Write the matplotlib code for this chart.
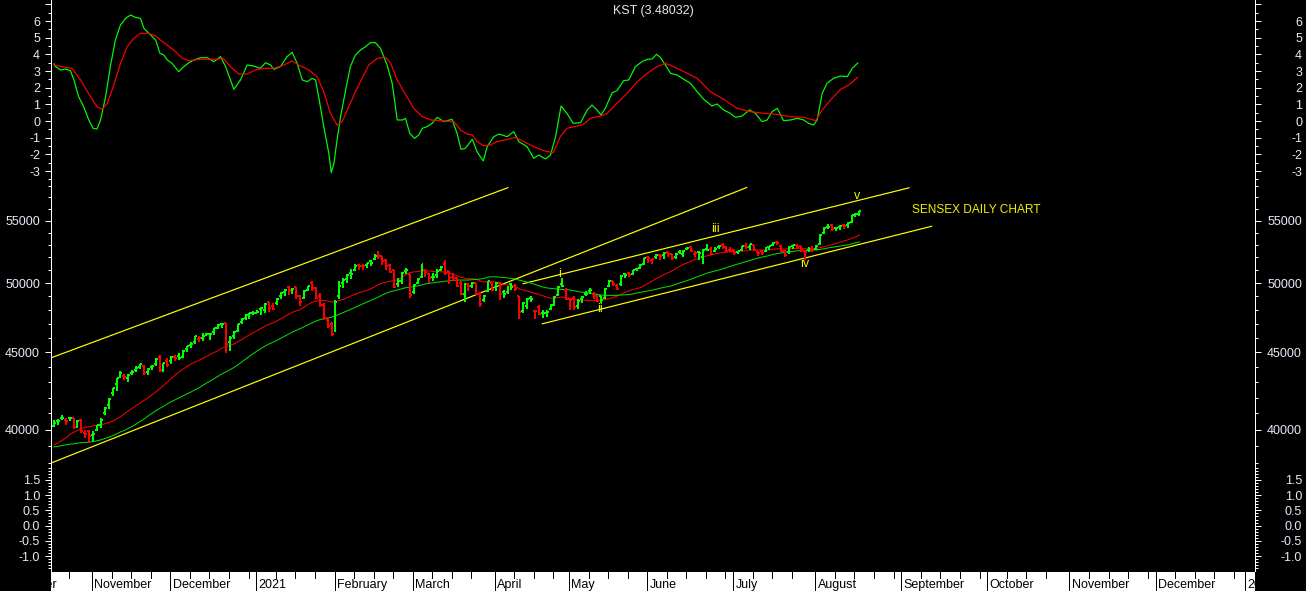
import numpy as np
import pandas as pd
import matplotlib
matplotlib.use('Agg')
import matplotlib.pyplot as plt
from matplotlib.collections import LineCollection
from matplotlib.ticker import FixedLocator, FixedFormatter, NullFormatter

plt.rcParams['font.family'] = ['Liberation Sans', 'DejaVu Sans']

# ---------------- data ----------------
# daily bars (19-Oct-2020 .. 17-Aug-2021), index = trading-day number
opens = [40200, 40500, 40700, 40600, 40700, 40700, 40200, 40600, 39800, 39900,
         39700, 40000, 40300, 41000, 41500, 42300, 42900, 43450, 43400, 43300,
         43600, 43800, 44000, 44100, 43700, 44000, 44200, 44700, 44000, 44400,
         44400, 44700, 44750, 44700, 45200, 45500, 45700, 45900, 46000, 46200,
         46300, 46400, 46700, 47000, 47050, 45700, 46100, 46500, 47150, 47450,
         47700, 47800, 47800, 48100, 48000, 48600, 48300, 48500, 49000, 49300,
         49700, 49500, 49700, 49000, 48900, 49500, 50000, 49600, 49000, 48400,
         47300, 47000, 46600, 49000, 50000, 50300, 50800, 51000, 51400, 51300,
         51400, 51700, 51900, 52300, 52100, 51800, 51400, 51000, 49900, 50200,
         50900, 50700, 49300, 50000, 50500, 51000, 50700, 50500, 50600, 51000,
         51500, 50900, 50500, 50400, 50000, 49200, 49900, 49800, 50000, 49200,
         48700, 49400, 50000, 49700, 50000, 49300, 49300, 49900, 49800, 49000,
         47900, 48300, 48900, 47900, 48200, 47800, 47800, 48100, 48400, 49100,
         49900, 49500, 48800, 48900, 48300, 48800, 49200, 49400, 49200, 49000,
         49000, 48900, 49800, 50200, 49800, 49900, 50700, 50800, 50700, 51100,
         51200, 51500, 52000, 51800, 52000, 52200, 52200, 52400, 52300, 52000,
         52400, 52300, 52700, 52800, 52300, 52400, 52000, 52700, 52700, 52500,
         52800, 53000, 52800, 52600, 52600, 52400, 52600, 52900, 52800, 53000,
         52400, 52500, 52500, 52800, 53000, 53200, 52900, 52500, 52400, 52900,
         53000, 52900, 52500, 52600, 52700, 52700, 53100, 54000, 54500, 54600,
         54400, 54500, 54600, 54600, 54900, 55500, 55600]
highs = [40600, 40650, 40900, 40700, 40800, 40730, 40600, 40660, 40000, 39950,
         39900, 40300, 40700, 41400, 41950, 42650, 43300, 43710, 43550, 43550,
         43830, 44100, 44230, 44150, 43950, 44150, 44600, 44825, 44300, 44600,
         44730, 44800, 44950, 45150, 45460, 45740, 46160, 46100, 46310, 46370,
         46350, 46700, 46990, 47030, 47055, 46100, 46500, 47000, 47400, 47700,
         47810, 47900, 47980, 48220, 48490, 48620, 48500, 48850, 49300, 49570,
         49800, 49650, 49700, 49100, 49450, 49800, 50190, 49700, 49250, 48500,
         47500, 47100, 48700, 50150, 50400, 50700, 51070, 51500, 51520, 51500,
         51600, 51800, 52240, 52520, 52100, 51900, 51450, 51050, 50400, 50850,
         51200, 50700, 49900, 50400, 51500, 51100, 50800, 50800, 51100, 51350,
         51820, 50950, 50800, 50500, 50200, 50000, 50000, 50100, 50000, 49300,
         49100, 50200, 50100, 50100, 50100, 49500, 49800, 50000, 49900, 49000,
         48600, 48850, 49000, 48000, 48400, 48000, 48000, 48450, 49000, 49800,
         50375, 49600, 48850, 49000, 48800, 49000, 49400, 49600, 49300, 49100,
         49000, 49600, 50250, 50200, 49900, 50600, 50800, 50850, 51050, 51200,
         51450, 51950, 52100, 51900, 52300, 52300, 52400, 52450, 52300, 52350,
         52600, 52600, 52870, 52900, 52500, 52500, 52650, 53050, 52800, 52800,
         53000, 53130, 52900, 52800, 52700, 52550, 52900, 53130, 53100, 53000,
         52500, 52600, 52800, 52950, 53200, 53290, 53000, 52600, 52900, 53000,
         53100, 52950, 52600, 52800, 52900, 53000, 53900, 54470, 54700, 54700,
         54500, 54600, 54700, 54900, 55500, 55670, 55850]
lows = [40150, 40300, 40600, 40300, 40500, 40050, 40100, 39800, 39500, 39250,
        39300, 39900, 40100, 40900, 41300, 42100, 42400, 43300, 43150, 43000,
        43500, 43700, 43900, 43500, 43500, 43800, 44100, 43650, 43700, 44000,
        44200, 44400, 44500, 44600, 45050, 45300, 45600, 45700, 45750, 46100,
        45850, 46200, 46650, 46700, 44923, 45110, 45900, 46400, 47000, 47300,
        47360, 47600, 47770, 47600, 47800, 47850, 48000, 48350, 48800, 49000,
        49100, 49150, 48800, 48300, 48800, 49400, 49400, 48800, 48200, 47300,
        46700, 46160, 46400, 48800, 49600, 50000, 50300, 50900, 51000, 51000,
        51200, 51300, 51800, 51900, 51400, 51000, 50800, 49650, 49700, 49900,
        50700, 48900, 49200, 49900, 50400, 50500, 50000, 50200, 50400, 50900,
        50600, 49900, 50200, 49700, 49100, 48600, 49400, 49600, 49100, 48240,
        48600, 49300, 49400, 49400, 48700, 48900, 49200, 49500, 49400, 47360,
        47800, 48100, 48600, 47360, 47600, 47400, 47500, 48000, 48300, 49000,
        49700, 48700, 48000, 48000, 48100, 48500, 49000, 49200, 48800, 48600,
        48500, 48800, 49700, 49800, 49500, 49800, 50400, 50500, 50600, 50900,
        51100, 51400, 51600, 51500, 51900, 51800, 51900, 52000, 51800, 51900,
        52300, 52000, 52600, 52400, 52000, 51800, 51500, 52500, 52200, 52400,
        52700, 52700, 52400, 52400, 52200, 52300, 52500, 52700, 52600, 52500,
        52100, 52200, 52400, 52600, 52900, 53000, 52400, 52000, 52300, 52700,
        52700, 52400, 51800, 52400, 52400, 52600, 53000, 53900, 54300, 54100,
        54100, 54200, 54300, 54400, 54800, 55300, 55400]
closes = [40431, 40544, 40707, 40558, 40686, 40145, 40522, 39922, 39750, 39614,
          39757, 40261, 40616, 41340, 41893, 42597, 43278, 43594, 43357, 43443,
          43638, 43952, 44180, 43600, 43882, 44077, 44523, 43828, 44260, 44150,
          44655, 44618, 44633, 45080, 45426, 45609, 46104, 45960, 46099, 46254,
          46263, 46666, 46890, 46961, 45554, 46007, 46444, 46974, 47354, 47613,
          47746, 47751, 47869, 48177, 48438, 48174, 48093, 48782, 49269, 49517,
          49492, 49584, 49035, 48564, 49398, 49792, 49625, 48879, 48348, 47410,
          46874, 46286, 48601, 49798, 50256, 50614, 50732, 51349, 51329, 51309,
          51532, 51544, 52154, 52104, 51704, 51324, 50890, 49744, 50195, 50781,
          51039, 49100, 49850, 50297, 51445, 50846, 50405, 50441, 50924, 51280,
          50792, 50395, 50364, 49802, 49216, 49858, 49771, 50051, 49180, 48440,
          49008, 50137, 49509, 50030, 49159, 49202, 49662, 49746, 49592, 47884,
          48544, 48804, 48832, 47949, 47706, 47813, 47879, 48387, 48944, 49734,
          49766, 48782, 48718, 48254, 48677, 48950, 49206, 49503, 49162, 48690,
          48733, 49581, 50193, 49903, 49565, 50540, 50651, 50638, 51018, 51115,
          51423, 51937, 51935, 51849, 52232, 52100, 52328, 52276, 51942, 52300,
          52475, 52551, 52773, 52501, 52323, 52344, 52574, 52588, 52306, 52699,
          52925, 52735, 52549, 52483, 52319, 52485, 52880, 52861, 53055, 52569,
          52386, 52373, 52770, 52904, 53159, 53140, 52553, 52199, 52838, 52976,
          52852, 52579, 52444, 52654, 52587, 52951, 53823, 54370, 54493, 54278,
          54403, 54555, 54526, 54844, 55437, 55583, 55792]
# closes before the first bar (for the moving averages)
prior_closes = [38434, 38799, 38843, 39073, 39113, 39467, 38628, 38900, 39086, 38990,
                38357, 38417, 38365, 38193, 38840, 38855, 38757, 39044, 39303, 38980,
                38845, 38034, 37734, 37668, 36553, 37389, 37982, 37973, 38068, 38697,
                38974, 39574, 39879, 40183, 40509, 40594, 40626, 40795, 39728, 39983]
ma_fast, ma_slow = 20, 40

# KST line and its signal line (bar index, value)
kst_idx = [0, 0.4, 1.7, 2.9, 4.2, 5.1, 6.3, 7.6, 8.9, 10, 11, 11.9, 13.2, 14.4, 15.7,
           17, 18.3, 19.6, 20.8, 22.1, 23, 24.7, 26, 27.1, 28.1, 29, 30.2, 31.9, 33.2,
           34.5, 35.8, 37.5, 39.2, 40.9, 42.6, 43.9, 46, 47.7, 49.4, 51.1, 52.8, 54.1,
           55.4, 56.2, 57.9, 59.6, 60.9, 62.2, 63.5, 64.8, 66, 66.9, 67.7, 69, 70.3,
           70.9, 71.6, 72.4, 73.3, 74.6, 75.8, 77.1, 78.4, 79.7, 80.9, 82.2, 83.5, 85.2,
           86.5, 87.8, 89.1, 89.9, 91, 92.2, 93.3, 94.2, 95.4, 96.7, 98, 99.7, 101.8,
           103.1, 104.1, 105.2, 107, 108.2, 109.8, 110.8, 112.5, 113.8, 115.9, 117.6,
           118.9, 121, 122.7, 124, 125.7, 127, 128.3, 129.7, 131.2, 132.8, 134.7, 136.4,
           137.6, 138.9, 139.9, 141, 142.8, 144, 145.7, 147, 148.7, 150.4, 151.7, 153,
           154.1, 155.1, 156.4, 157.7, 159.4, 161.1, 162.8, 164.5, 166.2, 168.3, 169.6,
           171.3, 173, 174.3, 176, 177.9, 179.4, 181.1, 182.4, 183.7, 185, 186.6, 188.4,
           190.1, 191.8, 193, 194.3, 195.2, 196.5, 197.7, 199.4, 201.2, 202.9, 204.2,
           205.6]
kst_val = [3.42, 3.26, 3.06, 3.12, 3.02, 2.46, 1.46, 0.86, 0.06, -0.44, -0.48, 0.06, 1.46,
           3.26, 4.86, 5.76, 6.16, 6.36, 6.22, 6.16, 5.56, 5.16, 4.86, 4.06, 3.96, 3.66,
           3.46, 2.96, 3.26, 3.5, 3.66, 3.8, 3.8, 3.56, 3.86, 3.26, 1.9, 2.46, 3.36, 3.3,
           3.16, 3.5, 3.36, 3.1, 3.26, 3.86, 4.12, 3.46, 2.46, 2.36, 2.56, 2.46, 1.46,
           -0.34, -1.94, -3.1, -2.54, -1.14, 0.26, 1.86, 3.26, 3.96, 4.26, 4.46, 4.7, 4.7,
           4.36, 3.36, 2.26, 0.06, 0.06, 0.16, -0.74, -1.04, -0.84, -0.44, -0.34, -0.14,
           0.22, -0.04, 0.1, -0.74, -1.7, -1.64, -1.1, -1.84, -2.4, -1.54, -0.94, -0.78,
           -0.94, -0.64, -1.24, -1.54, -2.24, -2.04, -2.28, -2.04, -0.94, 0.9, 0.46, -0.14,
           -0.1, 0.66, 0.96, 0.66, 0.36, 0.76, 1.7, 1.82, 2.42, 2.46, 3.26, 3.56, 3.7,
           3.72, 4.0, 3.82, 3.36, 2.86, 2.76, 2.5, 2.26, 1.76, 1.3, 0.9, 1.02, 0.66, 0.46,
           0.22, 0.3, 0.66, 0.46, -0.04, 0.06, 0.56, 0.76, 0.02, 0.06, 0.16, 0.06, -0.14,
           -0.24, 0.06, 1.66, 2.26, 2.56, 2.7, 2.66, 3.16, 3.48]
sig_idx = [0, 3.4, 4.6, 6.8, 9.3, 11, 12.3, 13.6, 15.3, 17, 18.7, 20.4, 22.1, 24.2, 26,
           27.2, 28.9, 31.1, 32.8, 34.5, 37.5, 40.9, 43.3, 45.1, 47.3, 49.4, 51.5, 53.7,
           56.2, 58.4, 60.9, 62.6, 65.2, 67.3, 69, 70.7, 72.4, 73.7, 75.4, 77.1, 78.8,
           80.5, 82.7, 84.8, 86.1, 87.8, 89.5, 92, 94.2, 96.4, 98.9, 102.3, 104, 105.7,
           107, 108.2, 109.9, 111.6, 113.3, 115.9, 118, 120.2, 122.7, 125.3, 127.7,
           129.5, 131.2, 133.8, 135.5, 137.2, 139.8, 141.5, 144, 146.6, 149.2, 151.7,
           154.3, 156.4, 158.5, 162, 164.5, 167.9, 171.3, 174.7, 178.1, 181.5, 184.9,
           188.3, 191.8, 194.8, 196.5, 198.6, 201.2, 203.3, 205.6]
sig_val = [3.36, 3.2, 3.16, 2.46, 1.46, 0.86, 0.7, 1.06, 2.16, 3.46, 4.46, 4.96, 5.26, 5.26,
           5.1, 4.86, 4.56, 4.16, 3.76, 3.62, 3.7, 3.7, 3.76, 3.26, 2.82, 2.82, 3.06, 3.16,
           3.16, 3.32, 3.6, 3.36, 3.06, 2.66, 1.76, 0.46, -0.24, -0.04, 0.86, 1.76, 2.56,
           3.36, 3.76, 3.82, 3.46, 2.46, 1.76, 0.76, 0.26, 0.06, 0.02, -0.04, -0.54,
           -0.78, -0.84, -1.24, -1.48, -1.44, -1.24, -1.1, -0.98, -1.24, -1.54, -1.78,
           -1.9, -0.94, -0.44, -0.3, -0.18, 0.16, 0.3, 0.46, 1.06, 1.66, 2.36, 2.86, 3.26,
           3.46, 3.26, 2.86, 2.56, 1.76, 1.3, 0.76, 0.56, 0.46, 0.4, 0.26, 0.22, 0.02,
           0.66, 1.26, 1.9, 2.16, 2.62]
kst_last = 3.48032

# trend lines (start index, start price, end index, end price)
trend_x0 = [-0.8, -0.8, 124.9, 120.0]
trend_p0 = [44620, 38010, 47000, 49960]
trend_x1 = [116.1, 177.2, 224.5, 218.7]
trend_p1 = [57830, 57850, 54530, 57820]

wave_labels = ['i', 'ii', 'iii', 'iv', 'v']
wave_x = [129.4, 139.6, 169.3, 192.0, 205.4]
wave_p = [50690, 48100, 54310, 51470, 57130]
chart_note = 'SENSEX DAILY CHART'
note_x, note_p = 219.4, 55920

# x-axis months (index of first trading day)
month_names = ['October', 'November', 'December', '2021', 'February', 'March', 'April',
               'May', 'June', 'July', 'August', 'September', 'October', 'November',
               'December', '2022']
month_start = [-11, 10, 30, 52, 72, 92, 113, 132, 152, 174, 195, 217, 239, 260, 282, 305]

# axis ticks
kst_major = [-3, -2, -1, 0, 1, 2, 3, 4, 5, 6, 7]
kst_labels = ['-3', '-2', '-1', '0', '1', '2', '3', '4', '5', '6', '']
kst_minor = [-3.5, -2.5, -1.5, -0.5, 0.5, 1.5, 2.5, 3.5, 4.5, 5.5, 6.5]
price_major = [40000, 45000, 50000, 55000]
price_labels = ['40000', '45000', '50000', '55000']
price_minor = [p for p in range(38000, 58001, 1000) if p not in price_major]
low_major = [-1.0, -0.5, 0.0, 0.5, 1.0, 1.5]
low_labels = ['-1.0', '-0.5', '0.0', '0.5', '1.0', '1.5']
low_minor = [round(v, 1) for v in np.arange(-1.4, 1.95, 0.1)]

# ---------------- figure ----------------
W, H = 1306, 591
fig = plt.figure(figsize=(W / 100, H / 100), dpi=100, facecolor='black')
L, R = 51, 1255
XLIM = (-0.77, 307.2)
LABEL_C = '#E4EAF8'


def add_ax(top, bottom, fc='black'):
    a = fig.add_axes([L / W, 1 - bottom / H, (R - L) / W, (bottom - top) / H])
    a.set_facecolor(fc)
    a.set_xlim(*XLIM)
    return a


ax_k = add_ax(0, 185)
ax_p = add_ax(185, 465)
ax_b = add_ax(465, 571)
ax_s = add_ax(572, 591, fc='white')

ax_k.set_ylim(-3.84, 7.26)
ax_p.set_yscale('log')
ax_p.set_ylim(37900, 58070)
ax_b.set_ylim(-1.49, 1.99)

PX = 72 / 100  # points per pixel


def style_axis(ax, major, labels, minor, side, log=False):
    ax.set_xticks([])
    for s in ['top', 'bottom', 'left', 'right']:
        ax.spines[s].set_visible(False)
    ax.spines[side].set_visible(True)
    ax.spines[side].set_color('white')
    ax.spines[side].set_linewidth(1 * PX)
    ax.yaxis.set_major_locator(FixedLocator(major))
    ax.yaxis.set_major_formatter(FixedFormatter(labels))
    ax.yaxis.set_minor_locator(FixedLocator(minor))
    ax.yaxis.set_minor_formatter(NullFormatter())
    ax.yaxis.set_ticks_position(side)
    pad = 5 * PX if side == 'left' else 41 * PX
    ax.tick_params(axis='y', which='major', direction='out', length=6 * PX,
                   width=1 * PX, color='white', labelcolor=LABEL_C, labelsize=9, pad=pad)
    ax.tick_params(axis='y', which='minor', direction='out', length=3 * PX,
                   width=1 * PX, color='white')
    if side == 'right':
        for lab in ax.get_yticklabels():
            lab.set_horizontalalignment('right')


for ax, maj, lab, mnr, yl, lg in [(ax_k, kst_major, kst_labels, kst_minor, (-3.84, 7.26), False),
                                  (ax_p, price_major, price_labels, price_minor, (37900, 58070), True),
                                  (ax_b, low_major, low_labels, low_minor, (-1.49, 1.99), False)]:
    style_axis(ax, maj, lab, mnr, 'left')
    tw = ax.twinx()
    if lg:
        tw.set_yscale('log')
    tw.set_ylim(*yl)
    tw.set_xlim(*XLIM)
    style_axis(tw, maj, lab, mnr, 'right')

# ---------------- KST panel ----------------
ax_k.plot(kst_idx, kst_val, color='#00FF00', lw=1.2 * PX, zorder=3)
ax_k.plot(sig_idx, sig_val, color='#FF0000', lw=1.2 * PX, zorder=3)
ax_k.text(0.5, 0.94, f'KST ({kst_last})', transform=ax_k.transAxes, ha='center',
          va='center', color='#E8E8E8', fontsize=9)

# ---------------- price panel ----------------
idx = np.arange(len(closes))
segs, cols = [], []
prev = opens[0]
for i in idx:
    o, h, l, c = opens[i], highs[i], lows[i], closes[i]
    col = '#00FF00' if c >= prev else '#FF0000'
    segs.append([(i, l), (i, h)])
    segs.append([(i - 0.5, o), (i, o)])
    segs.append([(i, c), (i + 0.5, c)])
    cols += [col] * 3
    prev = c
ax_p.add_collection(LineCollection(segs, colors=cols, linewidths=2 * PX, zorder=4,
                                   capstyle='butt', antialiaseds=False))

all_close = pd.Series(prior_closes + closes, dtype=float)
n0 = len(prior_closes)
ma1 = all_close.rolling(ma_fast).mean().values[n0:]
ma2 = all_close.rolling(ma_slow).mean().values[n0:]
ax_p.plot(idx, ma1, color='#FF0000', lw=1 * PX, zorder=3)
ax_p.plot(idx, ma2, color='#00E000', lw=1 * PX, zorder=3)

for x0, p0, x1, p1 in zip(trend_x0, trend_p0, trend_x1, trend_p1):
    ax_p.plot([x0, x1], [p0, p1], color='#FFFF00', lw=1.2 * PX, zorder=2)

for t, x, p in zip(wave_labels, wave_x, wave_p):
    ax_p.text(x, p, t, color='#F0F000', fontsize=9, ha='center', va='center', zorder=5)
ax_p.text(note_x, note_p, chart_note, color='#F0F000', fontsize=8.6, ha='left',
          va='center', zorder=5)

# ---------------- date strip ----------------
ax_s.set_ylim(0, 1)
ax_s.set_xticks([])
ax_s.set_yticks([])
for s in ax_s.spines.values():
    s.set_visible(False)
for k, (name, st) in enumerate(zip(month_names, month_start)):
    xs = st - 0.25
    ax_s.plot([xs, xs], [0, 1], color='black', lw=1 * PX, clip_on=True)
    nxt = month_start[k + 1] if k + 1 < len(month_start) else st + 22
    w = st + 5
    while w < nxt - 1:
        ax_s.plot([w - 0.25, w - 0.25], [1, 0.7], color='black', lw=1 * PX, clip_on=True)
        w += 5
    ax_s.text(xs + 0.6, 0.3, name, color='black', fontsize=9, ha='left', va='center',
              clip_on=True)

fig.savefig('out.png', dpi=100, facecolor='black')
